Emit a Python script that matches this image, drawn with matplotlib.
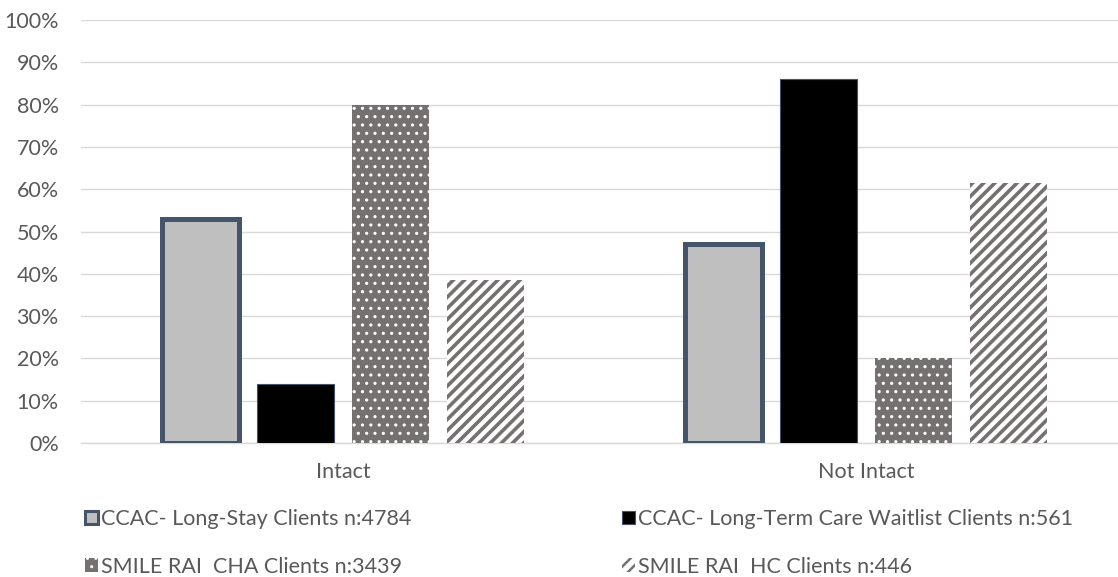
import numpy as np
import matplotlib
matplotlib.use('Agg')
import matplotlib.pyplot as plt
from matplotlib.patches import Patch
from matplotlib.ticker import PercentFormatter

plt.rcParams['font.family'] = ['Lato', 'DejaVu Sans']

# Share of clients in each cognition group
categories = ['Intact', 'Not Intact']
series_labels = [
    'CCAC- Long-Stay Clients n:4784',
    'CCAC- Long-Term Care Waitlist Clients n:561',
    'SMILE RAI  CHA Clients n:3439',
    'SMILE RAI  HC Clients n:446',
]
long_stay = [0.53, 0.47]
ltc_waitlist = [0.14, 0.86]
smile_cha = [0.80, 0.20]
smile_hc = [0.385, 0.615]
y_ticks = np.arange(0, 1.01, 0.1)

text_gray = '#595959'
grid_gray = '#D9D9D9'
slate = '#44546A'
dark_gray = '#767171'
font_size = 15.5

fig = plt.figure(figsize=(11.18, 5.77), dpi=100)
ax = fig.add_axes([81 / 1118, 1 - 443 / 577, 1 - 81 / 1118, (443 - 20) / 577])

x = np.arange(len(categories))
width = 0.147
step = 0.182

styles = [
    dict(facecolor='#BFBFBF', edgecolor=slate, linewidth=3.6),
    dict(facecolor='black', edgecolor=slate, linewidth=0.8),
    dict(facecolor=dark_gray, edgecolor='white', linewidth=0, hatch='..'),
    dict(facecolor='white', edgecolor=dark_gray, linewidth=0, hatch='///'),
]

for i, (vals, st) in enumerate(zip([long_stay, ltc_waitlist, smile_cha, smile_hc], styles)):
    bars = ax.bar(x + (i - 1.5) * step, vals, width, zorder=3, **st)
    if 'hatch' in st:
        for b in bars:
            b.set_hatch_linewidth(2.6 if st['hatch'] == '///' else 1.1)

ax.set_xlim(-0.501, 1.482)
ax.set_ylim(0, 1.0)
ax.set_yticks(y_ticks)
ax.yaxis.set_major_formatter(PercentFormatter(1.0, decimals=0))
ax.set_xticks(x)
ax.set_xticklabels(categories)
ax.grid(axis='y', color=grid_gray, linewidth=1.0, zorder=0)
ax.set_axisbelow(True)
for side in ['top', 'right', 'left']:
    ax.spines[side].set_visible(False)
ax.spines['bottom'].set_color(grid_gray)
ax.spines['bottom'].set_linewidth(1.0)
ax.tick_params(axis='both', length=0, labelsize=font_size, labelcolor=text_gray)
ax.tick_params(axis='y', pad=16)
ax.tick_params(axis='x', pad=14)

handles = [
    Patch(facecolor='#BFBFBF', edgecolor=slate, linewidth=2.2),
    Patch(facecolor='black', edgecolor=slate, linewidth=0.8),
    Patch(facecolor=dark_gray, edgecolor='white', linewidth=0, hatch='..'),
    Patch(facecolor='white', edgecolor=dark_gray, linewidth=0, hatch='///'),
]

leg_kw = dict(frameon=False, fontsize=font_size, labelcolor=text_gray, handlelength=0.6,
              handleheight=0.6, handletextpad=0.15, labelspacing=1.28,
              borderpad=0, borderaxespad=0, loc='upper left')
leg1 = fig.legend([handles[0], handles[2]], [series_labels[0], series_labels[2]],
                  bbox_to_anchor=(85 / 1118, 1 - 509 / 577), **leg_kw)
leg2 = fig.legend([handles[1], handles[3]], [series_labels[1], series_labels[3]],
                  bbox_to_anchor=(622 / 1118, 1 - 509 / 577), **leg_kw)
for leg in (leg1, leg2):
    for h in leg.legend_handles:
        if h.get_hatch():
            h.set_hatch_linewidth(1.8 if h.get_hatch() == '///' else 1.0)

fig.savefig('out.png', dpi=100)
